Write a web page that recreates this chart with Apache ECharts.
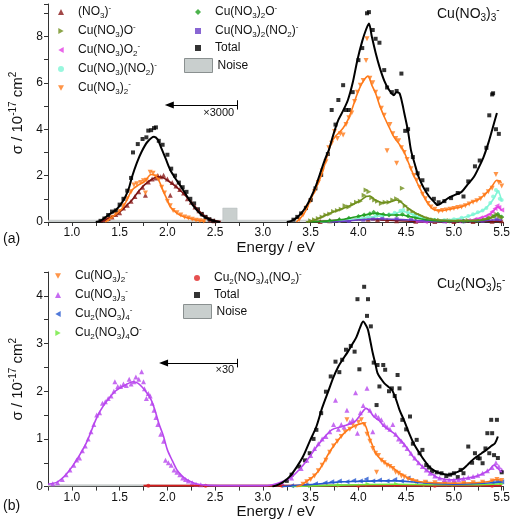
<!DOCTYPE html>
<html><head><meta charset="utf-8">
<script src="https://cdn.jsdelivr.net/npm/echarts@6/dist/echarts.min.js"></script>
<style>html,body{margin:0;padding:0;background:#fff}#c{width:513px;height:524px}</style>
</head><body><div id="c"></div>
<script>
// ---------- Panel (a): Cu(NO3)3- ----------
const aTotalLine = [[1.25,0],[1.30,0.05],[1.35,0.2],[1.40,0.35],[1.46,0.52],[1.51,0.75],[1.56,1.09],[1.60,1.5],[1.63,1.95],[1.68,2.55],[1.73,3.03],[1.79,3.45],[1.86,3.68],[1.90,3.55],[1.93,3.25],[1.98,2.75],[2.03,2.24],[2.08,1.9],[2.13,1.6],[2.18,1.28],[2.23,0.95],[2.28,0.65],[2.34,0.38],[2.39,0.22],[2.44,0.12],[2.50,0.03],[2.55,0],[2.56,null],
 [3.25,0],[3.30,0.05],[3.36,0.2],[3.40,0.37],[3.45,0.65],[3.49,0.95],[3.55,1.5],[3.60,2.1],[3.65,2.7],[3.69,3.1],[3.74,3.8],[3.79,4.4],[3.84,4.8],[3.89,5.26],[3.94,6.0],[3.99,7.0],[4.04,7.8],[4.08,8.3],[4.11,8.56],[4.14,8.0],[4.18,7.3],[4.22,6.7],[4.27,6.1],[4.32,5.7],[4.37,5.47],[4.40,5.6],[4.43,5.55],[4.46,5.1],[4.48,4.7],[4.52,3.9],[4.55,3.1],[4.59,2.5],[4.63,1.95],[4.68,1.5],[4.74,1.1],[4.79,0.88],[4.83,0.73],[4.88,0.85],[4.94,1.03],[5.00,1.15],[5.08,1.3],[5.14,1.6],[5.21,1.95],[5.26,2.35],[5.31,2.8],[5.36,3.4],[5.40,3.97],[5.45,4.7]];
const aTotalPts = [[1.30,0.05],[1.34,0.15],[1.38,0.3],[1.42,0.45],[1.46,0.5],[1.50,0.75],[1.54,1.0],[1.58,1.35],[1.62,1.9],[1.64,3.0],[1.69,3.36],[1.74,3.58],[1.78,3.65],[1.80,3.94],[1.83,3.96],[1.86,4.05],[1.88,4.08],[1.91,3.5],[1.95,3.33],[2.00,2.9],[2.04,2.3],[2.08,2.0],[2.12,1.7],[2.16,1.5],[2.20,1.3],[2.24,1.0],[2.28,0.8],[2.32,0.55],[2.36,0.35],[2.40,0.22],[2.44,0.12],[2.48,0.05],
 [3.32,0.1],[3.36,0.22],[3.40,0.37],[3.45,0.6],[3.50,0.95],[3.55,1.45],[3.61,2.03],[3.68,2.93],[3.72,4.83],[3.76,4.2],[3.79,5.26],[3.84,5.9],[3.87,4.83],[3.90,4.83],[3.94,5.6],[4.00,6.98],[4.04,7.5],[4.09,9.0],[4.11,9.05],[4.15,8.28],[4.18,7.9],[4.22,7.73],[4.27,6.55],[4.30,5.8],[4.35,5.6],[4.40,5.65],[4.45,6.4],[4.49,3.93],[4.52,4.0],[4.57,2.8],[4.62,2.1],[4.67,1.8],[4.72,1.4],[4.79,1.0],[4.84,0.85],[4.90,0.9],[4.97,1.03],[5.04,1.25],[5.10,1.1],[5.15,1.75],[5.22,2.4],[5.27,2.65],[5.34,3.2],[5.37,4.6],[5.40,5.5],[5.41,5.55],[5.44,4.0],[5.47,3.8]];
const aNO3Line = [[1.30,0],[1.36,0.12],[1.41,0.2],[1.46,0.3],[1.52,0.5],[1.57,0.7],[1.63,0.95],[1.69,1.28],[1.76,1.6],[1.83,1.82],[1.90,1.95],[1.95,1.92],[2.0,1.8],[2.06,1.62],[2.13,1.38],[2.18,1.18],[2.23,0.95],[2.28,0.7],[2.34,0.44],[2.39,0.26],[2.44,0.14],[2.50,0.05],[2.56,0.02],[2.57,null],
 [3.5,0.01],[3.7,0.05],[3.85,0.1],[4.0,0.12],[4.2,0.1],[4.4,0.06],[4.6,0.03],[5.0,0.02],[5.5,0.03]];
const aNO3Pts = [[1.34,0.1],[1.38,0.15],[1.42,0.22],[1.46,0.32],[1.50,0.4],[1.54,0.6],[1.58,0.72],[1.62,0.9],[1.66,1.1],[1.70,1.3],[1.74,1.5],[1.77,1.15],[1.80,1.72],[1.84,1.85],[1.88,1.9],[1.90,2.0],[1.93,1.95],[1.96,2.02],[2.00,1.85],[2.03,1.15],[2.05,1.7],[2.09,1.55],[2.13,1.4],[2.17,1.25],[2.21,1.0],[2.25,0.85],[2.29,0.65],[2.33,0.48],[2.37,0.33],[2.41,0.2],[2.45,0.1],[2.49,0.05],
 [3.6,0.02],[3.7,0.05],[3.8,0.1],[3.9,0.12],[4.0,0.15],[4.1,0.12],[4.2,0.1],[4.3,0.08],[4.4,0.05],[4.6,0.03],[4.8,0.02],[5.0,0.02],[5.2,0.02],[5.4,0.03],[5.5,0.05]];
const aCuOLine = [[3.45,0],[3.55,0.1],[3.62,0.23],[3.70,0.38],[3.79,0.52],[3.88,0.65],[3.96,0.8],[4.03,0.95],[4.08,1.1],[4.12,1.12],[4.16,1.0],[4.20,0.9],[4.27,0.83],[4.34,0.88],[4.40,0.95],[4.45,0.85],[4.50,0.66],[4.57,0.45],[4.64,0.3],[4.70,0.18],[4.77,0.12],[4.85,0.08],[5.0,0.06],[5.2,0.07],[5.3,0.1],[5.4,0.2],[5.45,0.28],[5.5,0.2]];
const aCuOPts = [[3.50,0.05],[3.54,0.1],[3.58,0.15],[3.62,0.22],[3.66,0.3],[3.70,0.35],[3.74,0.45],[3.78,0.5],[3.82,0.55],[3.86,0.7],[3.90,0.65],[3.94,0.75],[3.98,0.85],[4.02,0.9],[4.06,1.15],[4.08,1.38],[4.11,1.3],[4.14,1.05],[4.17,0.95],[4.20,0.9],[4.24,0.8],[4.28,0.85],[4.32,0.85],[4.36,0.95],[4.40,1.0],[4.44,0.9],[4.46,1.45],[4.49,0.7],[4.53,0.55],[4.57,0.45],[4.61,0.35],[4.65,0.28],[4.69,0.2],[4.73,0.15],[4.78,0.1],[4.85,0.08],[4.95,0.06],[5.05,0.06],[5.15,0.07],[5.25,0.08],[5.32,0.12],[5.38,0.18],[5.42,0.25],[5.45,0.32],[5.48,0.25],[5.5,0.2]];
const aCuO2Line = [[4.6,0],[4.9,0.02],[5.1,0.05],[5.2,0.1],[5.3,0.2],[5.38,0.35],[5.43,0.55],[5.46,0.65],[5.5,0.5]];
const aCuO2Pts = [[4.7,0.01],[4.9,0.02],[5.05,0.04],[5.15,0.07],[5.22,0.12],[5.28,0.18],[5.33,0.25],[5.37,0.33],[5.40,0.45],[5.43,0.58],[5.45,0.7],[5.47,0.62],[5.5,0.52]];
const aCuNO2Line = [[3.6,0],[3.8,0.05],[3.95,0.12],[4.1,0.2],[4.2,0.25],[4.3,0.3],[4.4,0.4],[4.47,0.45],[4.55,0.35],[4.65,0.2],[4.75,0.12],[4.85,0.08],[4.95,0.1],[5.05,0.15],[5.15,0.25],[5.25,0.4],[5.32,0.55],[5.38,0.8],[5.43,1.1],[5.46,1.35],[5.5,0.9]];
const aCuNO2Pts = [[3.8,0.05],[3.9,0.1],[4.0,0.14],[4.1,0.2],[4.18,0.26],[4.25,0.28],[4.32,0.32],[4.38,0.4],[4.44,0.48],[4.47,0.52],[4.52,0.4],[4.58,0.3],[4.64,0.2],[4.72,0.13],[4.8,0.1],[4.9,0.09],[5.0,0.12],[5.08,0.18],[5.15,0.26],[5.2,0.33],[5.25,0.42],[5.3,0.5],[5.34,0.6],[5.38,0.82],[5.41,1.1],[5.44,1.38],[5.46,1.3],[5.48,1.0],[5.5,0.95]];
const aCu2Line = [[1.35,0],[1.40,0.15],[1.45,0.3],[1.52,0.55],[1.57,0.9],[1.63,1.38],[1.70,1.6],[1.76,1.74],[1.83,2.05],[1.87,2.0],[1.91,1.8],[1.96,1.3],[2.00,0.95],[2.03,0.66],[2.08,0.45],[2.13,0.3],[2.18,0.22],[2.23,0.16],[2.28,0.1],[2.34,0.06],[2.40,0.02],[2.41,null],
 [3.35,0],[3.40,0.2],[3.45,0.5],[3.49,0.88],[3.55,1.4],[3.62,2.1],[3.67,2.8],[3.72,3.45],[3.76,3.7],[3.79,3.82],[3.84,4.05],[3.89,4.4],[3.94,4.95],[3.99,5.55],[4.04,6.0],[4.10,6.29],[4.14,5.9],[4.18,5.55],[4.22,5.05],[4.27,4.54],[4.32,4.1],[4.37,3.68],[4.42,3.4],[4.47,3.1],[4.52,2.6],[4.57,2.1],[4.62,1.65],[4.67,1.24],[4.72,0.85],[4.77,0.59],[4.82,0.5],[4.87,0.49],[4.95,0.55],[5.02,0.6],[5.08,0.66],[5.15,0.78],[5.20,0.88],[5.25,0.95],[5.30,1.1],[5.35,1.3],[5.40,1.55],[5.45,1.8],[5.50,1.7]];
const aCu2Pts = [[1.38,0.1],[1.42,0.2],[1.46,0.35],[1.50,0.45],[1.54,0.7],[1.58,1.0],[1.62,1.3],[1.65,1.6],[1.68,1.65],[1.72,1.7],[1.75,1.78],[1.77,1.25],[1.78,1.8],[1.82,2.15],[1.85,2.1],[1.88,1.95],[1.91,1.85],[1.94,1.5],[1.97,1.25],[2.00,0.9],[2.03,0.7],[2.06,0.5],[2.10,0.4],[2.14,0.3],[2.18,0.22],[2.22,0.17],[2.26,0.12],[2.30,0.08],[2.34,0.05],[2.38,0.03],
 [3.38,0.1],[3.42,0.3],[3.46,0.6],[3.50,0.9],[3.54,1.3],[3.58,1.7],[3.62,2.2],[3.66,2.6],[3.69,3.2],[3.72,3.4],[3.75,3.9],[3.78,3.6],[3.81,3.8],[3.84,3.75],[3.87,4.2],[3.90,4.5],[3.93,4.7],[3.96,5.2],[3.99,5.6],[4.02,5.9],[4.05,6.1],[4.08,6.96],[4.09,7.9],[4.12,6.2],[4.15,6.0],[4.18,5.6],[4.21,5.3],[4.24,4.9],[4.27,4.6],[4.30,3.07],[4.33,4.2],[4.36,3.8],[4.39,3.6],[4.40,2.53],[4.42,3.5],[4.45,3.2],[4.48,3.0],[4.51,2.7],[4.55,2.3],[4.58,2.0],[4.61,1.8],[4.64,1.5],[4.67,1.2],[4.70,1.0],[4.73,0.8],[4.76,0.65],[4.80,0.55],[4.84,0.45],[4.88,0.5],[4.92,0.52],[4.96,0.55],[5.00,0.58],[5.04,0.62],[5.08,0.65],[5.12,0.7],[5.16,0.78],[5.20,0.85],[5.24,0.92],[5.28,1.0],[5.32,1.15],[5.36,1.3],[5.40,1.45],[5.44,2.05],[5.47,1.7],[5.50,1.55]];
const aCu2OLine = [[3.5,0],[3.7,0.05],[3.85,0.12],[4.0,0.25],[4.1,0.33],[4.18,0.38],[4.3,0.3],[4.45,0.3],[4.55,0.22],[4.7,0.1],[4.85,0.05],[5.0,0.04],[5.2,0.05],[5.35,0.12],[5.45,0.3],[5.5,0.22]];
const aCu2OPts = [[3.7,0.05],[3.8,0.1],[3.9,0.16],[4.0,0.24],[4.06,0.3],[4.12,0.36],[4.16,0.42],[4.2,0.36],[4.26,0.32],[4.32,0.3],[4.4,0.3],[4.46,0.33],[4.52,0.26],[4.6,0.18],[4.7,0.1],[4.8,0.06],[4.95,0.04],[5.1,0.04],[5.25,0.07],[5.35,0.13],[5.42,0.24],[5.46,0.33],[5.5,0.22]];
const aCu2NO2Line = [[3.7,0],[3.9,0.05],[4.1,0.12],[4.2,0.14],[4.35,0.12],[4.5,0.1],[4.7,0.05],[5.0,0.03],[5.3,0.05],[5.45,0.1],[5.5,0.08]];
const aCu2NO2Pts = [[3.9,0.05],[4.05,0.1],[4.15,0.14],[4.25,0.13],[4.4,0.12],[4.55,0.08],[4.7,0.05],[4.9,0.03],[5.1,0.03],[5.3,0.05],[5.45,0.11]];
const aNoise = [[0.75,0.08],[2.58,0.08],[2.58,0.6],[2.73,0.6],[2.73,0.08],[5.52,0.08]];

// ---------- Panel (b): Cu2(NO3)5- ----------
const bCu3Line = [[0.75,0.05],[0.85,0.1],[0.95,0.28],[1.05,0.56],[1.15,0.91],[1.25,1.4],[1.30,1.6],[1.36,1.78],[1.46,2.01],[1.56,2.13],[1.64,2.2],[1.69,2.17],[1.73,2.1],[1.78,1.98],[1.83,1.82],[1.87,1.6],[1.91,1.33],[1.96,1.05],[2.0,0.77],[2.05,0.55],[2.1,0.35],[2.15,0.23],[2.2,0.15],[2.25,0.1],[2.3,0.06],[2.4,0.03],[2.6,0.02],[2.8,0.02],[3.0,0.02],[3.1,0.04],[3.2,0.1],[3.3,0.2],[3.4,0.4],[3.49,0.63],[3.55,0.8],[3.62,0.98],[3.72,1.19],[3.83,1.26],[3.96,1.36],[4.02,1.5],[4.08,1.64],[4.12,1.58],[4.16,1.47],[4.22,1.38],[4.27,1.26],[4.37,1.12],[4.47,0.91],[4.52,0.78],[4.57,0.63],[4.64,0.48],[4.71,0.35],[4.78,0.25],[4.84,0.18],[4.98,0.14],[5.14,0.18],[5.24,0.22],[5.31,0.28],[5.37,0.35],[5.42,0.45],[5.46,0.38],[5.5,0.3]];
const bCu3Pts = [[0.80,0.06],[0.85,0.08],[0.90,0.15],[0.94,0.25],[0.98,0.35],[1.02,0.45],[1.05,0.56],[1.08,0.6],[1.11,0.75],[1.14,0.85],[1.17,1.0],[1.20,1.15],[1.23,1.3],[1.26,1.5],[1.29,1.55],[1.32,1.75],[1.35,1.78],[1.38,1.85],[1.41,1.9],[1.44,2.0],[1.45,2.2],[1.48,2.1],[1.51,2.1],[1.54,2.15],[1.57,2.12],[1.60,2.25],[1.62,2.15],[1.65,2.2],[1.67,2.3],[1.70,2.25],[1.73,2.41],[1.75,2.2],[1.76,2.05],[1.78,1.85],[1.80,1.95],[1.82,1.9],[1.84,1.75],[1.86,1.6],[1.88,1.45],[1.90,1.3],[1.93,1.1],[1.96,0.95],[1.98,0.55],[2.01,0.5],[2.04,0.45],[2.07,0.35],[2.10,0.3],[2.13,0.25],[2.16,0.18],[2.19,0.15],[2.22,0.12],[2.26,0.08],[2.30,0.05],[2.35,0.04],
 [3.2,0.08],[3.3,0.18],[3.4,0.38],[3.46,0.55],[3.5,0.65],[3.54,0.8],[3.58,0.9],[3.62,1.0],[3.66,1.05],[3.70,1.15],[3.74,1.3],[3.76,1.81],[3.79,1.2],[3.82,1.3],[3.85,1.25],[3.88,1.6],[3.91,1.35],[3.94,1.4],[3.97,1.97],[3.99,1.12],[4.02,1.55],[4.05,1.7],[4.09,2.06],[4.12,1.6],[4.15,1.15],[4.18,1.5],[4.21,1.45],[4.24,1.4],[4.27,1.3],[4.30,1.25],[4.33,1.2],[4.36,1.3],[4.39,1.1],[4.42,1.0],[4.45,0.95],[4.48,0.88],[4.51,0.8],[4.55,0.7],[4.59,0.6],[4.63,0.5],[4.67,0.42],[4.71,0.35],[4.75,0.28],[4.80,0.22],[4.85,0.18],[4.90,0.15],[4.95,0.14],[5.00,0.14],[5.05,0.15],[5.10,0.17],[5.15,0.19],[5.20,0.21],[5.25,0.24],[5.30,0.28],[5.35,0.33],[5.40,0.4],[5.44,0.5],[5.47,0.42],[5.5,0.35]];
const bCu2Line = [[3.35,0],[3.40,0.03],[3.45,0.1],[3.52,0.2],[3.59,0.35],[3.64,0.52],[3.69,0.7],[3.74,0.85],[3.79,0.98],[3.84,1.1],[3.89,1.19],[3.94,1.25],[3.98,1.29],[4.05,1.33],[4.08,1.25],[4.11,1.05],[4.15,0.85],[4.18,0.7],[4.22,0.6],[4.27,0.52],[4.32,0.45],[4.37,0.38],[4.42,0.3],[4.47,0.24],[4.52,0.18],[4.57,0.14],[4.65,0.1],[4.8,0.08],[5.0,0.07],[5.2,0.08],[5.35,0.1],[5.45,0.15],[5.5,0.12]];
const bCu2Pts = [[3.42,0.05],[3.46,0.1],[3.50,0.15],[3.54,0.22],[3.58,0.33],[3.62,0.45],[3.66,0.55],[3.70,0.72],[3.74,0.85],[3.78,0.95],[3.82,1.05],[3.86,1.15],[3.88,1.4],[3.91,1.2],[3.94,1.3],[3.97,1.25],[4.00,1.35],[4.03,1.4],[4.06,1.3],[4.09,1.1],[4.12,0.95],[4.15,0.8],[4.18,0.7],[4.19,0.3],[4.21,0.65],[4.24,0.55],[4.27,0.5],[4.30,0.45],[4.33,0.42],[4.36,0.38],[4.39,0.3],[4.42,0.28],[4.45,0.22],[4.48,0.2],[4.52,0.16],[4.56,0.13],[4.60,0.1],[4.7,0.09],[4.8,0.08],[4.9,0.07],[5.0,0.07],[5.1,0.07],[5.2,0.08],[5.3,0.09],[5.4,0.12],[5.45,0.15],[5.5,0.13]];
const bCu24Line = [[3.2,0],[3.4,0.03],[3.6,0.06],[3.8,0.1],[4.0,0.11],[4.2,0.12],[4.4,0.12],[4.6,0.09],[4.8,0.06],[5.0,0.05],[5.2,0.06],[5.4,0.08],[5.5,0.1]];
const bCu24Pts = [[3.3,0.02],[3.45,0.04],[3.55,0.06],[3.65,0.08],[3.72,0.1],[3.8,0.12],[3.88,0.1],[3.95,0.13],[4.02,0.12],[4.08,0.16],[4.15,0.12],[4.22,0.14],[4.3,0.12],[4.38,0.15],[4.45,0.12],[4.52,0.18],[4.6,0.1],[4.7,0.08],[4.8,0.06],[4.9,0.05],[5.0,0.05],[5.1,0.06],[5.2,0.06],[5.3,0.07],[5.4,0.09],[5.45,0.12],[5.5,0.1]];
const bCu24OLine = [[3.3,0],[3.6,0.02],[4.0,0.04],[4.4,0.05],[4.8,0.04],[5.2,0.04],[5.5,0.06]];
const bCu24OPts = [[3.5,0.02],[3.8,0.03],[4.1,0.05],[4.4,0.05],[4.7,0.04],[5.0,0.04],[5.3,0.05],[5.5,0.06]];
const bCu24NO2Line = [[1.75,0.02],[2.5,0.02],[3.5,0.02],[4.5,0.02],[5.5,0.02]];
const bCu24NO2Pts = [[1.8,0.02],[2.4,0.02],[3.2,0.02],[4.0,0.02],[4.8,0.02],[5.4,0.02]];
const bTotalLine = [[3.1,0],[3.2,0.08],[3.28,0.21],[3.35,0.4],[3.42,0.63],[3.49,0.95],[3.56,1.26],[3.62,1.65],[3.69,2.03],[3.74,2.3],[3.79,2.52],[3.84,2.68],[3.89,2.83],[3.94,3.0],[3.98,3.14],[4.02,3.35],[4.05,3.46],[4.08,3.38],[4.10,3.29],[4.13,3.0],[4.15,2.8],[4.18,2.55],[4.20,2.38],[4.24,2.25],[4.27,2.17],[4.31,2.1],[4.35,2.03],[4.39,1.85],[4.43,1.61],[4.48,1.38],[4.53,1.12],[4.58,0.9],[4.64,0.7],[4.69,0.55],[4.74,0.42],[4.79,0.34],[4.84,0.29],[4.94,0.25],[5.04,0.31],[5.09,0.36],[5.14,0.45],[5.19,0.55],[5.24,0.63],[5.29,0.7],[5.34,0.77],[5.39,0.85],[5.43,0.91],[5.46,1.05]];
const bTotalPts = [[3.25,0.12],[3.30,0.25],[3.38,0.42],[3.44,0.55],[3.49,0.7],[3.53,1.0],[3.56,1.19],[3.61,1.54],[3.66,1.99],[3.71,2.31],[3.76,2.62],[3.80,2.4],[3.83,2.66],[3.87,2.87],[3.92,2.95],[3.96,2.83],[3.99,3.93],[4.01,2.46],[4.06,4.19],[4.09,3.58],[4.10,3.93],[4.13,3.36],[4.16,2.6],[4.19,1.71],[4.20,2.55],[4.22,2.1],[4.26,2.55],[4.28,2.45],[4.32,2.0],[4.35,2.06],[4.38,1.9],[4.41,2.34],[4.43,2.06],[4.46,1.4],[4.50,1.2],[4.54,1.47],[4.57,0.9],[4.61,0.98],[4.64,0.7],[4.67,0.77],[4.71,0.45],[4.74,0.4],[4.77,0.32],[4.82,0.3],[4.87,0.28],[4.92,0.22],[4.96,0.25],[5.00,0.28],[5.04,0.2],[5.07,0.35],[5.10,0.28],[5.15,0.84],[5.19,0.5],[5.22,0.7],[5.25,0.6],[5.27,0.59],[5.30,0.49],[5.33,0.8],[5.35,1.12],[5.37,0.7],[5.39,1.4],[5.40,1.12],[5.42,0.66],[5.45,1.4],[5.46,0.6],[5.50,0.3]];
const bNoise = [[0.75,0.04],[5.52,0.04]];

// axis / annotation values
const xMin = 0.75, xMax = 5.52, xStep = 0.25;
const aYMax = 9.4, aYStep = 1;
const bYMax = 4.5, bYStep = 0.5;
const aArrow = {y:5.04, from:2.73, to:2.02, tickLo:4.85, tickHi:5.25, label:'×3000', labelAt:[2.71,4.7]};
const bArrow = {y:2.59, from:2.73, to:1.96, tickLo:2.5, tickHi:2.68, label:'×30', labelAt:[2.71,2.45]};

// names (rich markup for legends)
const RICH = {
 '(NO3)-':'{n|(NO}{b|3}{n|)}{p|-}',
 'Cu(NO3)O-':'{n|Cu(NO}{b|3}{n|)O}{p|-}',
 'Cu(NO3)O2-':'{n|Cu(NO}{b|3}{n|)O}{b|2}{p|-}',
 'Cu(NO3)(NO2)-':'{n|Cu(NO}{b|3}{n|)(NO}{b|2}{n|)}{p|-}',
 'Cu(NO3)2-':'{n|Cu(NO}{b|3}{n|)}{b|2}{p|-}',
 'Cu(NO3)2O-':'{n|Cu(NO}{b|3}{n|)}{b|2}{n|O}{p|-}',
 'Cu(NO3)2(NO2)-':'{n|Cu(NO}{b|3}{n|)}{b|2}{n|(NO}{b|2}{n|)}{p|-}',
 'Cu(NO3)3-':'{n|Cu(NO}{b|3}{n|)}{b|3}{p|-}',
 'Cu2(NO3)4-':'{n|Cu}{b|2}{n|(NO}{b|3}{n|)}{b|4}{p|-}',
 'Cu2(NO3)4O-':'{n|Cu}{b|2}{n|(NO}{b|3}{n|)}{b|4}{n|O}{p|-}',
 'Cu2(NO3)4(NO2)-':'{n|Cu}{b|2}{n|(NO}{b|3}{n|)}{b|4}{n|(NO}{b|2}{n|)}{p|-}',
 'Cu2(NO3)5-':'{n|Cu}{b|2}{n|(NO}{b|3}{n|)}{b|5}{p|-}',
 'Total':'{n|Total}',
 'Noise':'{n|Noise}'
};
const FONT = 'Liberation Sans, Arial, sans-serif';
const mk = (fs, lh) => ({
 w:{width:9, height:1},
 n:{fontSize:fs, lineHeight:lh, fontFamily:FONT, fontWeight:'normal', color:'#111'},
 b:{fontSize:Math.round(fs*0.68), lineHeight:Math.round(fs*0.68), verticalAlign:'bottom', fontFamily:FONT, fontWeight:'normal', color:'#111'},
 p:{fontSize:Math.round(fs*0.68), lineHeight:Math.round(fs*0.68), verticalAlign:'top', fontFamily:FONT, fontWeight:'normal', color:'#111'}
});
const rich = mk(12, 16);
const richT = mk(14, 18);
const richY = mk(15, 19);

// legend icon shapes for rotated triangles
const TRI_ICON = {
  '180':'path://M0,0L10,0L5,9Z',
  '-90':'path://M0,0L9,5L0,10Z',
  '90':'path://M9,0L0,5L9,10Z'
};

const series = [];
const ROT = {};
function sc(name, data, color, symbol, rot, gi, size) {
  ROT[name] = rot;
  series.push({type:'scatter', name, data, xAxisIndex:gi, yAxisIndex:gi, symbol, symbolRotate:rot,
    symbolSize:size||5, itemStyle:{color}, silent:true, z:2});
}
function ln(data, color, gi, w) {
  series.push({type:'line', data, xAxisIndex:gi, yAxisIndex:gi, showSymbol:false, symbol:'none', smooth:0.3,
    lineStyle:{color, width:w||1.6}, silent:true, z:3});
}
function noise(data, gi, arrow) {
  series.push({type:'line', name:'Noise', data, xAxisIndex:gi, yAxisIndex:gi, symbol:'none',
    lineStyle:{color:'#b5bbba', width:0.5}, areaStyle:{color:'#c9cfce', opacity:1}, silent:true, z:1,
    markLine:{silent:true, animation:false, symbol:['none','none'], label:{show:false},
      lineStyle:{color:'#000', width:1, type:'solid'},
      data:[
        [{coord:[arrow.from, arrow.y], symbol:'none'}, {coord:[arrow.to, arrow.y], symbol:'triangle', symbolSize:[7,9]}],
        [{coord:[arrow.from, arrow.tickLo]}, {coord:[arrow.from, arrow.tickHi]}]
      ]},
    markPoint:{silent:true, animation:false, data:[{coord:arrow.labelAt, symbol:'circle', symbolSize:0,
      label:{show:true, position:'left', distance:1, formatter:arrow.label, color:'#111', fontSize:11, fontFamily:FONT}}]}
  });
}

// panel a
noise(aNoise, 0, aArrow);
sc('(NO3)-', aNO3Pts, '#8b1a1a', 'triangle', 0, 0);
ln(aNO3Line, '#7a1212', 0);
sc('Cu(NO3)(NO2)-', aCuNO2Pts, '#7ff5d6', 'circle', 0, 0, 4);
ln(aCuNO2Line, '#7ff5d6', 0);
sc('Cu(NO3)O2-', aCuO2Pts, '#e43fe4', 'triangle', 90, 0);
ln(aCuO2Line, '#e43fe4', 0);
sc('Cu(NO3)2(NO2)-', aCu2NO2Pts, '#6a3fc8', 'rect', 0, 0, 4);
ln(aCu2NO2Line, '#6a3fc8', 0);
sc('Cu(NO3)2O-', aCu2OPts, '#20a020', 'diamond', 0, 0, 5);
ln(aCu2OLine, '#20a020', 0);
sc('Cu(NO3)O-', aCuOPts, '#6f8f1c', 'triangle', -90, 0);
ln(aCuOLine, '#6f8f1c', 0);
sc('Cu(NO3)2-', aCu2Pts, '#ff7a1a', 'triangle', 180, 0);
ln(aCu2Line, '#ff7a1a', 0);
sc('Total', aTotalPts, '#000', 'rect', 0, 0, 4);
ln(aTotalLine, '#000', 0, 2);

// panel b
noise(bNoise, 1, bArrow);
sc('Cu2(NO3)4(NO2)-', bCu24NO2Pts, '#e02424', 'circle', 0, 1, 4);
ln(bCu24NO2Line, '#d81e1e', 1);
sc('Cu2(NO3)4O-', bCu24OPts, '#6ee83a', 'triangle', -90, 1);
ln(bCu24OLine, '#6ee83a', 1);
sc('Cu2(NO3)4-', bCu24Pts, '#2458d0', 'triangle', 90, 1);
ln(bCu24Line, '#2458d0', 1);
sc('Cu(NO3)2-', bCu2Pts, '#ff7a1a', 'triangle', 180, 1);
ln(bCu2Line, '#ff7a1a', 1);
sc('Cu(NO3)3-', bCu3Pts, '#b846ee', 'triangle', 0, 1);
ln(bCu3Line, '#b846ee', 1);
sc('Total', bTotalPts, '#000', 'rect', 0, 1, 4);
ln(bTotalLine, '#000', 1, 2);

function xAxis(gi) {
  return {type:'value', gridIndex:gi, min:xMin, max:xMax, interval:xStep,
    name:'Energy / eV', nameLocation:'middle', nameGap:16,
    nameTextStyle:{fontSize:15, fontFamily:FONT, color:'#111'},
    axisLine:{lineStyle:{color:'#333', width:1}}, axisTick:{length:4, lineStyle:{color:'#333'}},
    splitLine:{show:false},
    axisLabel:{fontSize:12, fontFamily:FONT, color:'#111', margin:5,
      formatter:v => Math.abs(v*2 - Math.round(v*2)) < 1e-6 ? v.toFixed(1) : ''}};
}
function yAxis(gi, max, step, every) {
  return {type:'value', gridIndex:gi, min:0, max, interval:step,
    name:'{n|σ / 10}{p|-17}{n| cm}{p|2}', nameLocation:'middle', nameGap:21,
    nameTextStyle:{rich:richY},
    axisLine:{show:true, lineStyle:{color:'#333', width:1}}, axisTick:{show:true, length:4, lineStyle:{color:'#333'}},
    splitLine:{show:false},
    axisLabel:{fontSize:12, fontFamily:FONT, color:'#111', margin:5,
      formatter:v => Math.abs(v/every - Math.round(v/every)) < 1e-6 ? String(Math.round(v)) : ''}};
}
const legBase = {orient:'vertical', selectedMode:false, itemGap:3, padding:0, symbolKeepAspect:true,
  textStyle:{rich}};
const lg = (left, top, names, w, h, pad) => Object.assign({}, legBase, {left, top, itemWidth:w, itemHeight:h,
  data: names.map(n => {
    if (typeof n !== 'string') return n;
    const r = ROT[n];
    return r ? {name:n, icon:TRI_ICON[String(r)]} : {name:n};
  }),
  formatter:n => (pad ? '{w|}' : '') + RICH[n]});
const noiseItem = [{name:'Noise', icon:'rect', itemStyle:{color:'#c9cfce', borderColor:'#8a9090', borderWidth:1}}];

const option = {
  animation:false,
  backgroundColor:'#fff',
  grid:[{left:40, right:3, top:4, height:218}, {left:40, right:3, top:272, height:214.6}],
  xAxis:[xAxis(0), xAxis(1)],
  yAxis:[yAxis(0, aYMax, aYStep, 2), yAxis(1, bYMax, bYStep, 1)],
  legend:[
    lg(58, 4, ['(NO3)-','Cu(NO3)O-','Cu(NO3)O2-','Cu(NO3)(NO2)-','Cu(NO3)2-'], 6, 6, true),
    lg(195, 4, ['Cu(NO3)2O-','Cu(NO3)2(NO2)-','Total'], 6, 6, true),
    lg(184, 58, noiseItem, 28, 14, false),
    lg(55, 268, ['Cu(NO3)2-','Cu(NO3)3-','Cu2(NO3)4-','Cu2(NO3)4O-'], 6, 6, true),
    lg(194, 270, ['Cu2(NO3)4(NO2)-','Total'], 6, 6, true),
    lg(183, 304, noiseItem, 28, 14, false)
  ],
  title:[
    {text:RICH['Cu(NO3)3-'], left:437, top:5, padding:0, textStyle:{rich:richT, fontWeight:'normal'}},
    {text:RICH['Cu2(NO3)5-'], left:437, top:275, padding:0, textStyle:{rich:richT, fontWeight:'normal'}}
  ],
  graphic:[
    {type:'text', left:3, top:232, style:{text:'(a)', fontSize:14, fontFamily:FONT, fill:'#111'}},
    {type:'text', left:3, top:499, style:{text:'(b)', fontSize:14, fontFamily:FONT, fill:'#111'}}
  ],
  series
};
const chart = echarts.init(document.getElementById('c'), null, {renderer:'canvas'});
chart.setOption(option);
</script></body></html>
